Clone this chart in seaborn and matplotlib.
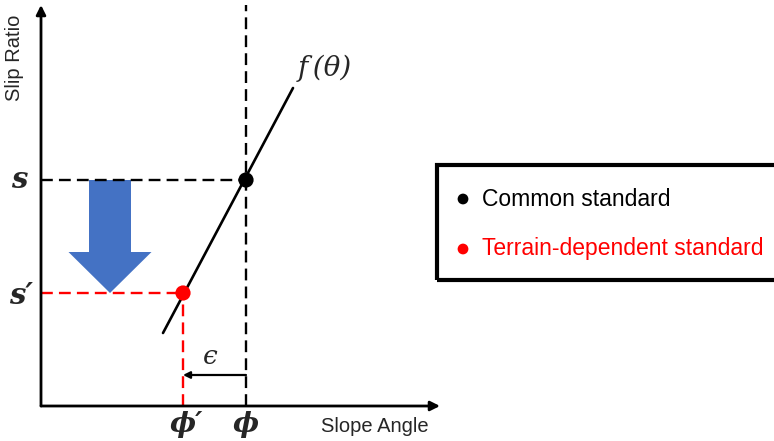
import numpy as np
import pandas as pd
import seaborn as sns
import matplotlib.pyplot as plt
from matplotlib.patches import FancyArrow, Rectangle

## Schematic values (axis origin = 0, 0)
phi = 205
phi_prime = 142
s_val = 226
s_prime = 113
theta_line = [122, 252]
f_line = [73, 318]
x_axis_end = 399
y_axis_end = 401
legend_labels = ["Common standard", "Terrain-dependent standard"]
legend_colors = ["black", "red"]

sns.set_theme(style="white")
plt.rcParams['font.family'] = ['Liberation Sans', 'DejaVu Sans']

fig = plt.figure(figsize=(7.74, 4.41), dpi=100)
ax = fig.add_axes([0, 0, 1, 1])
ax.set_xlim(-41, 733)
ax.set_ylim(-35, 406)
ax.axis('off')

# axes with arrows
arrow_kw = dict(arrowstyle='-|>', color='black', lw=2, mutation_scale=14, shrinkA=0, shrinkB=0)
ax.annotate('', xy=(x_axis_end, 0), xytext=(0, 0), arrowprops=arrow_kw)
ax.annotate('', xy=(0, y_axis_end), xytext=(0, 0), arrowprops=arrow_kw)

# dashed guides
dash = (0, (5, 2.6))
ax.plot([0, phi], [s_val, s_val], color='black', lw=1.7, linestyle=dash)
ax.plot([phi, phi], [0, y_axis_end], color='black', lw=1.7, linestyle=dash)
ax.plot([0, phi_prime], [s_prime, s_prime], color='red', lw=1.7, linestyle=dash)
ax.plot([phi_prime, phi_prime], [0, s_prime], color='red', lw=1.7, linestyle=dash)

# blue shift arrow
ax.add_patch(FancyArrow(69, s_val, 0, -(s_val - s_prime), width=42, head_width=83,
                        head_length=41, length_includes_head=True,
                        color='#4472C4', lw=0))

# f(theta) line
line_df = pd.DataFrame({'theta': theta_line, 'f': f_line})
sns.lineplot(data=line_df, x='theta', y='f', color='black', lw=1.9, ax=ax)

# points
pts = pd.DataFrame({'x': [phi, phi_prime], 'y': [s_val, s_prime], 'kind': legend_labels})
sns.scatterplot(data=pts, x='x', y='y', hue='kind', palette=legend_colors, s=120,
                edgecolor='none', legend=False, ax=ax, zorder=5)

# epsilon arrow
ax.annotate('', xy=(phi_prime, 31), xytext=(phi, 31),
            arrowprops=dict(arrowstyle='-|>', color='black', lw=1.6, mutation_scale=10,
                            shrinkA=0, shrinkB=0))

# math-style labels (serif italic)
math_kw = dict(family='DejaVu Serif', style='italic', ha='center', va='center')
ax.text(169, 50, '\u03f5', fontsize=19, **math_kw)
ax.text(284, 338, 'f\u2009(\u03b8)', fontsize=20, **math_kw)
ax.text(-22, s_val, 's', fontsize=21, weight='bold', **math_kw)
ax.text(-20, s_prime - 2, 's\u2032', fontsize=21, weight='bold', **math_kw)
ax.text(phi, -19, '\u03d5', fontsize=20, weight='bold', **math_kw)
ax.text(phi_prime + 3, -19, '\u03d5\u2032', fontsize=20, weight='bold', **math_kw)

# axis titles
ax.text(-26, 348, 'Slip Ratio', fontsize=14.5, rotation=90, ha='center', va='center')
ax.text(334, -21, 'Slope Angle', fontsize=14.5, ha='center', va='center')

# legend box
ax.add_patch(Rectangle((396, 126), 360, 115, fill=False, edgecolor='black', lw=3,
                       clip_on=False))
for yy, lab, col in zip([207, 157], legend_labels, legend_colors):
    ax.scatter([422], [yy], s=60, color=col, edgecolor='none')
    ax.text(441, yy, lab, color=col, fontsize=16.5, ha='left', va='center')

fig.savefig('out.png', dpi=100)
